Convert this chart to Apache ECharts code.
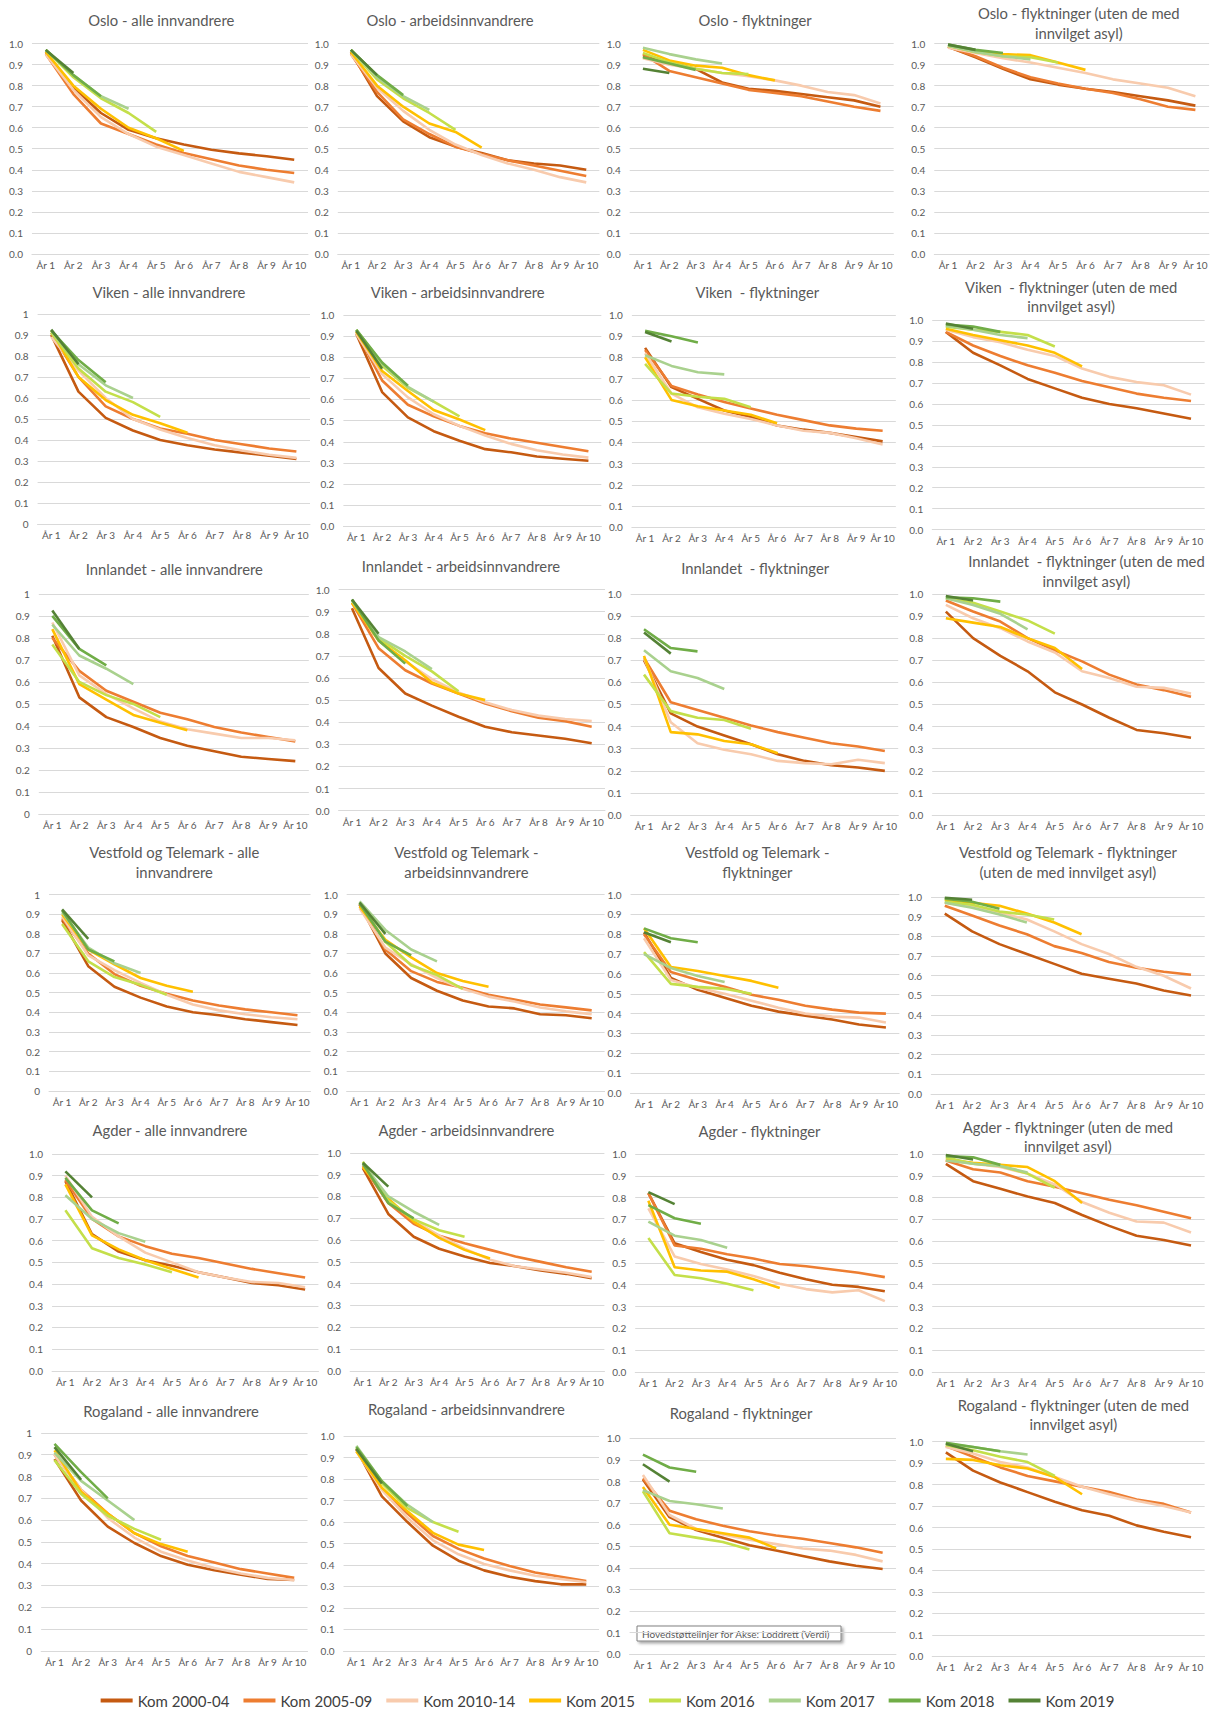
<!DOCTYPE html>
<html><head><meta charset="utf-8">
<script src="https://cdn.jsdelivr.net/npm/echarts@6/dist/echarts.min.js"></script>
<style>html,body{margin:0;padding:0;background:#fff}#c{width:1215px;height:1709px}</style>
</head><body><div id="c"></div>
<script>
// ---------- categories ----------
const years = ['År 1','År 2','År 3','År 4','År 5','År 6','År 7','År 8','År 9','År 10'];
const cohorts = ['Kom 2000-04','Kom 2005-09','Kom 2010-14','Kom 2015','Kom 2016','Kom 2017','Kom 2018','Kom 2019'];

// ---------- data: each panel = one array per cohort (same order as cohorts) ----------
const osloAlle = [
 [0.96,0.79,0.67,0.59,0.55,0.52,0.495,0.478,0.464,0.448],
 [0.95,0.76,0.62,0.57,0.52,0.48,0.45,0.42,0.40,0.385],
 [0.95,0.78,0.65,0.57,0.51,0.47,0.43,0.39,0.365,0.34],
 [0.96,0.80,0.69,0.60,0.55,0.49],
 [0.97,0.84,0.74,0.67,0.58],
 [0.97,0.85,0.75,0.69],
 [0.97,0.85,0.75],
 [0.97,0.86]];
const osloArb = [
 [0.96,0.75,0.63,0.555,0.51,0.48,0.445,0.43,0.42,0.40],
 [0.95,0.77,0.64,0.57,0.51,0.475,0.445,0.42,0.395,0.37],
 [0.95,0.79,0.68,0.59,0.52,0.47,0.43,0.40,0.365,0.34],
 [0.96,0.80,0.70,0.62,0.58,0.505],
 [0.97,0.83,0.74,0.67,0.59],
 [0.97,0.84,0.75,0.685],
 [0.97,0.85,0.755],
 [0.97,0.85]];
const osloFly = [
 [0.94,0.91,0.88,0.815,0.785,0.775,0.76,0.745,0.73,0.70],
 [0.95,0.87,0.84,0.81,0.78,0.765,0.75,0.725,0.70,0.68],
 [0.93,0.90,0.88,0.86,0.845,0.825,0.80,0.77,0.755,0.715],
 [0.97,0.92,0.895,0.885,0.85,0.825],
 [0.955,0.91,0.88,0.86,0.855],
 [0.98,0.95,0.925,0.905],
 [0.935,0.905,0.875],
 [0.88,0.86]];
const osloFlyU = [
 [0.985,0.935,0.88,0.83,0.805,0.785,0.77,0.75,0.73,0.705],
 [0.985,0.94,0.885,0.84,0.81,0.785,0.765,0.735,0.70,0.685],
 [0.98,0.955,0.93,0.91,0.885,0.86,0.83,0.81,0.79,0.75],
 [0.99,0.96,0.95,0.945,0.91,0.875],
 [0.99,0.96,0.94,0.935,0.91],
 [0.99,0.96,0.94,0.925],
 [0.995,0.97,0.955],
 [0.995,0.97]];
const vikenAlle = [
 [0.90,0.63,0.505,0.445,0.40,0.375,0.355,0.34,0.325,0.31],
 [0.91,0.70,0.56,0.50,0.455,0.43,0.40,0.38,0.36,0.345],
 [0.89,0.73,0.60,0.50,0.45,0.41,0.375,0.35,0.33,0.315],
 [0.92,0.70,0.59,0.52,0.48,0.435],
 [0.91,0.74,0.63,0.58,0.51],
 [0.92,0.76,0.66,0.60],
 [0.92,0.78,0.675],
 [0.925,0.76]];
const vikenArb = [
 [0.91,0.635,0.515,0.45,0.405,0.365,0.35,0.33,0.32,0.31],
 [0.92,0.69,0.575,0.52,0.475,0.44,0.415,0.395,0.375,0.355],
 [0.91,0.72,0.61,0.53,0.475,0.43,0.39,0.36,0.34,0.325],
 [0.92,0.735,0.64,0.55,0.505,0.455],
 [0.93,0.76,0.655,0.59,0.52],
 [0.93,0.77,0.66,0.59],
 [0.93,0.775,0.665],
 [0.925,0.745]];
const vikenFly = [
 [0.845,0.66,0.605,0.55,0.52,0.48,0.46,0.445,0.425,0.405],
 [0.835,0.665,0.625,0.59,0.56,0.53,0.505,0.48,0.465,0.455],
 [0.82,0.63,0.565,0.535,0.51,0.48,0.455,0.445,0.42,0.39],
 [0.80,0.60,0.57,0.55,0.53,0.49],
 [0.77,0.63,0.615,0.605,0.565],
 [0.81,0.76,0.73,0.72],
 [0.925,0.90,0.87],
 [0.92,0.875]];
const vikenFlyU = [
 [0.945,0.845,0.785,0.72,0.675,0.63,0.60,0.58,0.555,0.53],
 [0.945,0.88,0.83,0.785,0.75,0.71,0.68,0.65,0.63,0.615],
 [0.955,0.92,0.895,0.86,0.83,0.77,0.73,0.705,0.69,0.645],
 [0.96,0.93,0.905,0.88,0.845,0.78],
 [0.97,0.955,0.945,0.93,0.875],
 [0.975,0.955,0.93,0.915],
 [0.98,0.97,0.945],
 [0.985,0.96]];
const innlAlle = [
 [0.81,0.53,0.44,0.395,0.345,0.31,0.285,0.26,0.25,0.24],
 [0.80,0.65,0.56,0.51,0.46,0.43,0.395,0.37,0.35,0.33],
 [0.87,0.63,0.545,0.48,0.42,0.385,0.365,0.345,0.345,0.335],
 [0.84,0.59,0.52,0.45,0.415,0.38],
 [0.77,0.60,0.54,0.50,0.44],
 [0.86,0.72,0.66,0.59],
 [0.90,0.75,0.675],
 [0.925,0.75]];
const innlArb = [
 [0.915,0.645,0.53,0.475,0.425,0.38,0.355,0.34,0.325,0.305],
 [0.94,0.735,0.635,0.575,0.53,0.485,0.45,0.42,0.405,0.38],
 [0.95,0.77,0.675,0.595,0.535,0.49,0.455,0.43,0.415,0.405],
 [0.94,0.77,0.68,0.58,0.53,0.50],
 [0.95,0.78,0.70,0.63,0.54],
 [0.95,0.785,0.72,0.64],
 [0.955,0.77,0.665],
 [0.955,0.80]];
const innlFly = [
 [0.70,0.46,0.40,0.36,0.32,0.275,0.245,0.225,0.215,0.20],
 [0.71,0.51,0.475,0.44,0.405,0.375,0.35,0.325,0.31,0.29],
 [0.71,0.42,0.325,0.295,0.275,0.245,0.235,0.23,0.25,0.235],
 [0.72,0.375,0.365,0.335,0.32,0.28],
 [0.635,0.47,0.44,0.43,0.39],
 [0.745,0.65,0.62,0.57],
 [0.84,0.755,0.74],
 [0.825,0.73]];
const innlFlyU = [
 [0.92,0.80,0.72,0.65,0.555,0.50,0.44,0.385,0.37,0.35],
 [0.97,0.92,0.875,0.80,0.745,0.695,0.635,0.59,0.565,0.535],
 [0.95,0.89,0.845,0.785,0.735,0.65,0.62,0.58,0.575,0.55],
 [0.89,0.87,0.85,0.80,0.755,0.66],
 [0.98,0.96,0.92,0.88,0.82],
 [0.98,0.95,0.91,0.84],
 [0.985,0.98,0.965],
 [0.99,0.97]];
const vtAlle = [
 [0.87,0.635,0.53,0.475,0.43,0.40,0.385,0.365,0.35,0.335],
 [0.88,0.70,0.595,0.535,0.495,0.46,0.435,0.415,0.40,0.385],
 [0.89,0.69,0.615,0.55,0.49,0.44,0.41,0.39,0.375,0.365],
 [0.90,0.72,0.645,0.575,0.535,0.505],
 [0.85,0.66,0.58,0.54,0.49],
 [0.91,0.73,0.65,0.60],
 [0.92,0.72,0.66],
 [0.925,0.775]];
const vtArb = [
 [0.95,0.70,0.575,0.51,0.46,0.43,0.42,0.39,0.385,0.37],
 [0.95,0.72,0.61,0.555,0.525,0.49,0.465,0.44,0.425,0.41],
 [0.93,0.73,0.645,0.575,0.52,0.48,0.455,0.425,0.405,0.39],
 [0.94,0.77,0.68,0.60,0.56,0.53],
 [0.96,0.76,0.64,0.59,0.52],
 [0.965,0.82,0.72,0.66],
 [0.955,0.76,0.69],
 [0.96,0.80]];
const vtFly = [
 [0.81,0.58,0.52,0.48,0.44,0.41,0.39,0.37,0.345,0.33],
 [0.80,0.61,0.57,0.535,0.495,0.47,0.44,0.42,0.405,0.40],
 [0.78,0.57,0.53,0.50,0.465,0.43,0.40,0.385,0.38,0.355],
 [0.83,0.635,0.615,0.59,0.565,0.53],
 [0.71,0.55,0.535,0.525,0.50],
 [0.70,0.63,0.59,0.56],
 [0.83,0.78,0.76],
 [0.81,0.76]];
const vtFlyU = [
 [0.915,0.825,0.76,0.71,0.66,0.61,0.585,0.56,0.525,0.50],
 [0.955,0.905,0.855,0.81,0.75,0.715,0.67,0.64,0.62,0.605],
 [0.97,0.95,0.92,0.885,0.825,0.76,0.71,0.645,0.60,0.535],
 [0.985,0.97,0.955,0.915,0.87,0.81],
 [0.975,0.96,0.925,0.91,0.885],
 [0.97,0.945,0.91,0.87],
 [0.99,0.975,0.94],
 [0.995,0.985]];
const agderAlle = [
 [0.875,0.63,0.55,0.51,0.485,0.455,0.43,0.405,0.395,0.375],
 [0.88,0.70,0.62,0.575,0.54,0.52,0.495,0.47,0.45,0.43],
 [0.90,0.71,0.62,0.545,0.50,0.455,0.43,0.41,0.405,0.385],
 [0.86,0.625,0.56,0.51,0.47,0.43],
 [0.74,0.565,0.52,0.49,0.455],
 [0.81,0.70,0.635,0.595],
 [0.89,0.74,0.68],
 [0.92,0.80]];
const agderArb = [
 [0.93,0.72,0.615,0.56,0.525,0.495,0.48,0.46,0.445,0.425],
 [0.94,0.77,0.675,0.62,0.585,0.555,0.525,0.50,0.475,0.455],
 [0.95,0.78,0.69,0.62,0.56,0.51,0.48,0.465,0.45,0.43],
 [0.935,0.79,0.685,0.61,0.555,0.515],
 [0.96,0.78,0.695,0.645,0.615],
 [0.95,0.80,0.73,0.67],
 [0.95,0.77,0.70],
 [0.955,0.845]];
const agderFly = [
 [0.82,0.59,0.55,0.515,0.49,0.455,0.425,0.40,0.39,0.37],
 [0.82,0.58,0.565,0.54,0.52,0.495,0.485,0.47,0.455,0.435],
 [0.75,0.53,0.495,0.47,0.44,0.405,0.38,0.365,0.375,0.325],
 [0.785,0.48,0.465,0.46,0.425,0.385],
 [0.615,0.445,0.43,0.405,0.375],
 [0.69,0.625,0.605,0.57],
 [0.765,0.705,0.68],
 [0.825,0.77]];
const agderFlyU = [
 [0.955,0.875,0.84,0.805,0.775,0.72,0.67,0.625,0.605,0.58],
 [0.97,0.93,0.915,0.875,0.85,0.82,0.79,0.765,0.735,0.705],
 [0.975,0.955,0.94,0.91,0.86,0.78,0.73,0.69,0.685,0.64],
 [0.975,0.96,0.95,0.94,0.875,0.775],
 [0.985,0.955,0.945,0.91,0.845],
 [0.97,0.955,0.945,0.915],
 [0.99,0.985,0.95],
 [0.995,0.975]];
const rogAlle = [
 [0.88,0.69,0.57,0.495,0.435,0.395,0.37,0.35,0.33,0.325],
 [0.90,0.74,0.63,0.54,0.48,0.435,0.405,0.375,0.355,0.335],
 [0.90,0.74,0.61,0.52,0.455,0.415,0.38,0.355,0.335,0.325],
 [0.92,0.73,0.63,0.54,0.49,0.455],
 [0.875,0.72,0.62,0.56,0.51],
 [0.91,0.78,0.69,0.60],
 [0.95,0.82,0.70],
 [0.935,0.785]];
const rogArb = [
 [0.94,0.72,0.60,0.49,0.42,0.375,0.345,0.325,0.31,0.31],
 [0.94,0.755,0.64,0.535,0.475,0.43,0.395,0.365,0.345,0.325],
 [0.93,0.75,0.62,0.515,0.45,0.405,0.375,0.35,0.335,0.32],
 [0.93,0.76,0.65,0.55,0.495,0.47],
 [0.945,0.78,0.665,0.60,0.555],
 [0.955,0.79,0.68,0.60],
 [0.95,0.79,0.675],
 [0.94,0.78]];
const rogFly = [
 [0.81,0.635,0.575,0.54,0.505,0.48,0.455,0.43,0.41,0.395],
 [0.815,0.665,0.625,0.595,0.57,0.55,0.535,0.515,0.495,0.47],
 [0.83,0.645,0.58,0.555,0.53,0.51,0.49,0.48,0.46,0.43],
 [0.775,0.60,0.58,0.56,0.54,0.49],
 [0.755,0.56,0.54,0.52,0.485],
 [0.76,0.71,0.695,0.675],
 [0.925,0.865,0.845],
 [0.88,0.80]];
const rogFlyU = [
 [0.95,0.865,0.81,0.765,0.72,0.68,0.655,0.61,0.58,0.555],
 [0.98,0.93,0.88,0.84,0.815,0.79,0.765,0.73,0.71,0.67],
 [0.975,0.945,0.905,0.88,0.835,0.79,0.755,0.725,0.70,0.67],
 [0.92,0.915,0.89,0.875,0.835,0.755],
 [0.985,0.96,0.93,0.905,0.84],
 [0.99,0.975,0.955,0.94],
 [0.995,0.975,0.955],
 [0.99,0.955]];

// ---------- panel titles ----------
const titles = [
 'Oslo - alle innvandrere','Oslo - arbeidsinnvandrere','Oslo - flyktninger','Oslo - flyktninger (uten de med\ninnvilget asyl)',
 'Viken - alle innvandrere','Viken - arbeidsinnvandrere','Viken  - flyktninger','Viken  - flyktninger (uten de med\ninnvilget asyl)',
 'Innlandet - alle innvandrere','Innlandet - arbeidsinnvandrere','Innlandet  - flyktninger','Innlandet  - flyktninger (uten de med\ninnvilget asyl)',
 'Vestfold og Telemark - alle\ninnvandrere','Vestfold og Telemark -\narbeidsinnvandrere','Vestfold og Telemark -\nflyktninger','Vestfold og Telemark - flyktninger\n(uten de med innvilget asyl)',
 'Agder - alle innvandrere','Agder - arbeidsinnvandrere','Agder - flyktninger','Agder - flyktninger (uten de med\ninnvilget asyl)',
 'Rogaland - alle innvandrere','Rogaland - arbeidsinnvandrere','Rogaland - flyktninger','Rogaland - flyktninger (uten de med\ninnvilget asyl)'
];
const panelData = [osloAlle,osloArb,osloFly,osloFlyU, vikenAlle,vikenArb,vikenFly,vikenFlyU,
 innlAlle,innlArb,innlFly,innlFlyU, vtAlle,vtArb,vtFly,vtFlyU, agderAlle,agderArb,agderFly,agderFlyU,
 rogAlle,rogArb,rogFly,rogFlyU];
// panels whose value-axis labels show "1" / "0" instead of "1.0" / "0.0"
const plainLabels = [4,8,12,20];

// ---------- styles / layout (not data) ----------
const colors = ['#C55A11','#ED7D31','#F8CBAD','#FFC000','#C4DF4A','#A9D18E','#70AD47','#548235'];
const S = 1215/1115;
// [x of År1, x of År10, y of 1.0 line, y of 0.0 line, title cx, title cy] in 1115-wide reference units
const layout = [
 [42,270,40,233,148,18],[322,538,40,233,413,18],[590,808,40,233,693,18],[870,1097,40,233,990,21],
 [47,272,288,481,155,268],[327,540,289,483,420,268],[592,810,289,484,695,268],[868,1093,294,486,983,272],
 [48,271,545,747,160,522],[323,543,541,744,423,519],[591,812,545,748,693,521],[868,1093,545,748,997,524],
 [57,273,821,1001,160,791],[330,543,821,1001,428,791],[591,813,821,1003,695,791],[867,1093,823,1004,980,791],
 [60,280,1059,1258,156,1037],[333,543,1058,1258,428,1037],[595,812,1059,1259,697,1038],[868,1093,1059,1259,980,1043],
 [50,270,1315,1515,157,1295],[327,538,1318,1515,428,1293],[590,810,1320,1518,680,1297],[868,1093,1323,1520,985,1298]
];
const FONT = 'Lato, "Open Sans", sans-serif';

const option = {animation:false, grid:[], xAxis:[], yAxis:[], series:[], graphic:[],
 legend:{data:cohorts, left:'center', top:1688, icon:'rect', itemWidth:32, itemHeight:4, itemGap:14,
   textStyle:{fontSize:15, color:'#404040', fontFamily:FONT}, selectedMode:false}};

panelData.forEach((pd,i)=>{
  const L = layout[i];
  const band = (L[1]-L[0])/9;
  const plain = plainLabels.indexOf(i) >= 0;
  option.grid.push({left:(L[0]-band/2)*S, top:L[2]*S, width:band*10*S, height:(L[3]-L[2])*S});
  option.xAxis.push({type:'category', gridIndex:i, data:years, boundaryGap:true,
    axisLine:{lineStyle:{color:'#D9D9D9'}}, axisTick:{show:false},
    axisLabel:{color:'#595959', fontSize:10, interval:0, margin:6, fontFamily:FONT}});
  option.yAxis.push({type:'value', gridIndex:i, min:0, max:1, interval:0.1,
    axisLine:{show:false}, axisTick:{show:false},
    splitLine:{lineStyle:{color:'#D9D9D9', width:1}},
    axisLabel:{color:'#595959', fontSize:10, margin:9, fontFamily:FONT,
      formatter:v=>{ if(plain && (Math.abs(v)<1e-9 || Math.abs(v-1)<1e-9)) return String(Math.round(v)); return v.toFixed(1);} }});
  pd.forEach((vals,k)=>{
    option.series.push({type:'line', name:cohorts[k], xAxisIndex:i, yAxisIndex:i, data:vals,
      symbol:'none', showSymbol:false, silent:true,
      lineStyle:{width:2.6, color:colors[k]}, itemStyle:{color:colors[k]}});
  });
  option.graphic.push({type:'text', x:L[4]*S, y:L[5]*S, silent:true,
    style:{text:titles[i], fill:'#595959', fontSize:14.8, fontFamily:FONT, align:'center', verticalAlign:'middle', lineHeight:19.5}});
});

// Excel hover tooltip visible in the screenshot
option.graphic.push({type:'group', silent:true, children:[
  {type:'rect', shape:{x:637, y:1626, width:204, height:15},
   style:{fill:'#FFFFFF', stroke:'#808080', lineWidth:1, shadowBlur:3, shadowOffsetX:2, shadowOffsetY:2, shadowColor:'rgba(0,0,0,0.35)'}},
  {type:'text', x:642, y:1633.5, style:{text:'Hovedstøttelinjer for Akse: Loddrett (Verdi)', fill:'#595959', fontSize:10, fontFamily:FONT, verticalAlign:'middle', align:'left'}}
]});

const chart = echarts.init(document.getElementById('c'), null, {renderer:'svg'});
chart.setOption(option);
</script>
</body></html>
